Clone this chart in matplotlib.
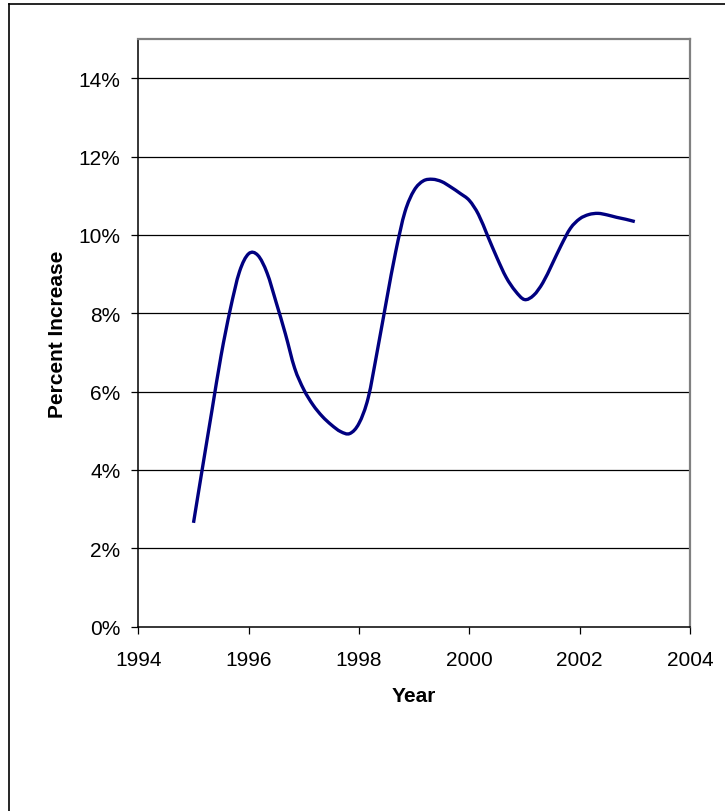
import matplotlib as mpl
import matplotlib.pyplot as plt
from matplotlib.lines import Line2D
from matplotlib.path import Path
from matplotlib.patches import PathPatch
from matplotlib.ticker import FuncFormatter
import numpy as np

mpl.rcParams['font.family'] = ['Liberation Sans', 'DejaVu Sans']

# bi-monthly readings, 1995 through 2003
start_year = 1995
steps_per_year = 6
pct_increase = [2.65, 4.09, 5.51, 6.92, 8.10, 9.06, 9.52, 9.48, 9.03, 8.27,
                7.47, 6.60, 6.05, 5.66, 5.37, 5.15, 4.98, 4.93, 5.19, 5.84,
                7.05, 8.34, 9.58, 10.59, 11.14, 11.38, 11.42, 11.36, 11.22, 11.06,
                10.88, 10.52, 9.97, 9.42, 8.92, 8.57, 8.35, 8.46, 8.78, 9.25,
                9.74, 10.17, 10.41, 10.52, 10.55, 10.51, 10.45, 10.40, 10.34]
years = [start_year + i / steps_per_year for i in range(len(pct_increase))]

x_ticks = [1994, 1996, 1998, 2000, 2002, 2004]
y_ticks = [0, 2, 4, 6, 8, 10, 12, 14]


def smooth_path(xs, ys):
    # cubic bezier segments through every reading (spreadsheet-style smoothed line)
    p = np.column_stack([xs, ys])
    verts = [p[0]]
    codes = [Path.MOVETO]
    n = len(p)
    for i in range(n - 1):
        p0 = p[max(i - 1, 0)]
        p1 = p[i]
        p2 = p[i + 1]
        p3 = p[min(i + 2, n - 1)]
        c1 = p1 + (p2 - p0) / 6.0
        c2 = p2 - (p3 - p1) / 6.0
        verts += [c1, c2, p2]
        codes += [Path.CURVE4] * 3
    return Path(verts, codes)


fig = plt.figure(figsize=(7.25, 8.12), dpi=100)
ax = fig.add_axes([0.1908, 0.2270, 0.7609, 0.7237])

for t in y_ticks[1:]:
    ax.axhline(t, color='black', linewidth=0.9, zorder=1)

ax.add_patch(PathPatch(smooth_path(years, pct_increase), facecolor='none',
                       edgecolor='#000080', linewidth=2.4, zorder=3,
                       capstyle='butt', joinstyle='round'))

ax.set_xlim(1994, 2004)
ax.set_ylim(0, 15)
ax.set_xticks(x_ticks)
ax.set_yticks(y_ticks)
ax.yaxis.set_major_formatter(FuncFormatter(lambda v, p: '%d%%' % v))
ax.tick_params(direction='out', length=5, width=0.9, labelsize=15, color='black')
ax.tick_params(axis='y', pad=8)
ax.tick_params(axis='x', pad=12)

for side in ['left', 'bottom']:
    ax.spines[side].set_color('black')
    ax.spines[side].set_linewidth(1.1)
for side in ['top', 'right']:
    ax.spines[side].set_color('#808080')
    ax.spines[side].set_linewidth(1.6)

ax.set_xlabel('Year', fontsize=15, fontweight='bold', labelpad=12)
ax.set_ylabel('Percent Increase', fontsize=15, fontweight='bold', labelpad=8)

# chart frame
fig.add_artist(Line2D([9 / 725, 9 / 725], [0, 1 - 5 / 812], color='black', linewidth=1.2))
fig.add_artist(Line2D([9 / 725, 1], [1 - 5 / 812, 1 - 5 / 812], color='black', linewidth=1.2))

fig.savefig('out.png', dpi=100)
